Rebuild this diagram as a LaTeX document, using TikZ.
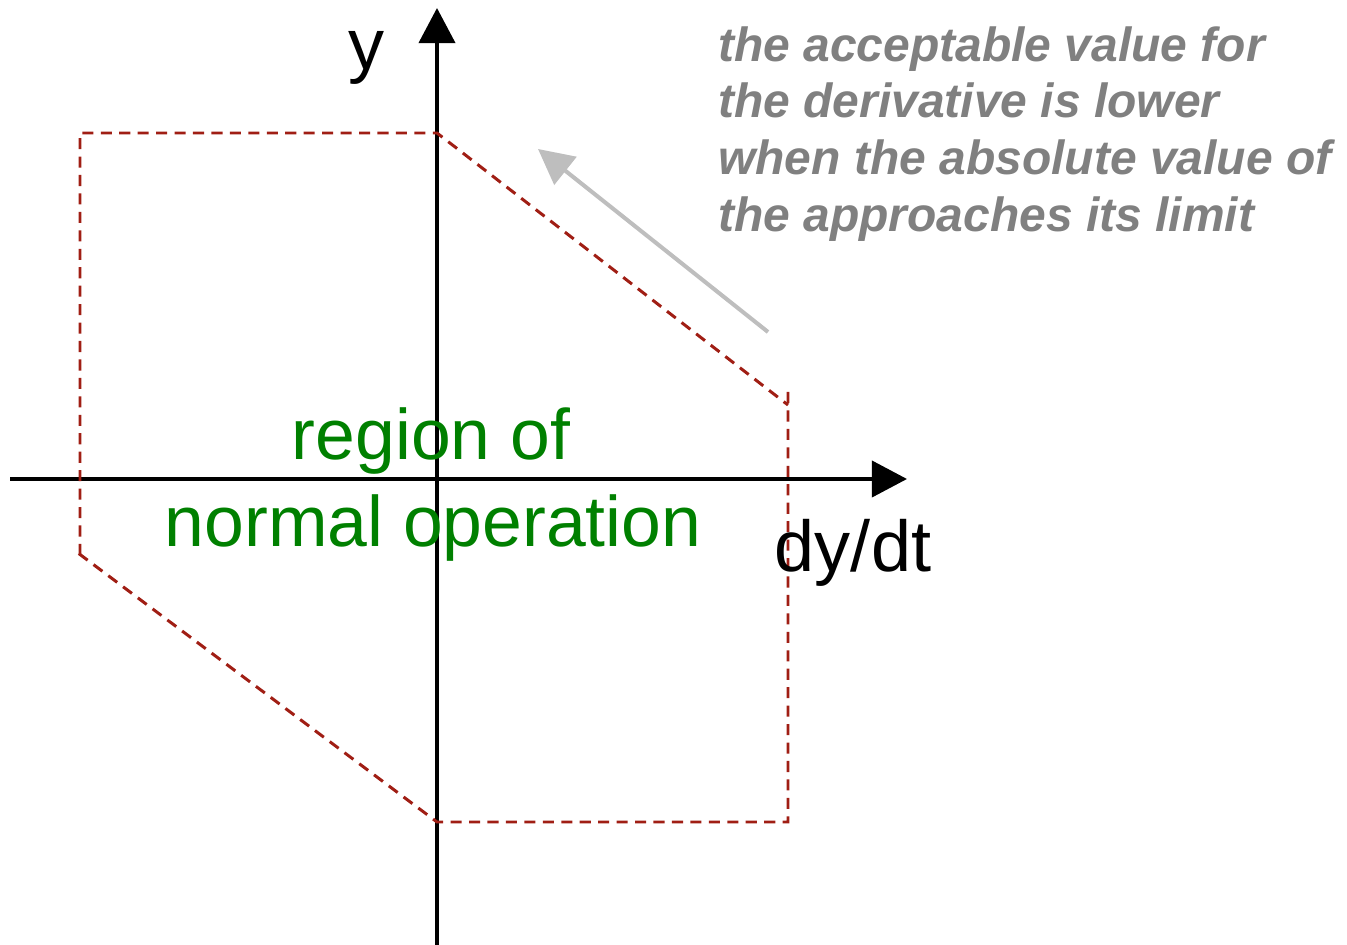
\documentclass[tikz,border=0pt]{standalone}
\usepackage{fontspec}
\setmainfont{Liberation Sans}
\usetikzlibrary{arrows.meta}
\definecolor{regionred}{RGB}{160,30,20}
\definecolor{notegray}{RGB}{128,128,128}
\definecolor{arrowgray}{RGB}{190,190,190}
\definecolor{regiongreen}{RGB}{0,128,0}
\tikzset{
  axis/.style={line width=2.4pt,-{Triangle[length=20pt,width=20.5pt]}},
  limit/.style={regionred,line width=1.7pt,dash pattern=on 6.3pt off 4.2pt},
  hint/.style={arrowgray,line width=2.3pt,-{Triangle[length=20pt,width=20pt]}},
  note/.style={notegray,anchor=base west,inner sep=0pt,font=\fontsize{27.3}{32.4}\selectfont\bfseries\itshape},
  label/.style={regiongreen,anchor=base,inner sep=0pt,font=\fontsize{40.7}{48}\selectfont},
  axlabel/.style={black,anchor=base,inner sep=0pt,font=\fontsize{41}{48}\selectfont}
}
\begin{document}
\begin{tikzpicture}[x=0.02cm,y=-0.02cm]
\useasboundingbox (0,0) rectangle (1347,945);
% axes
\coordinate (ybot) at (437,945);
\coordinate (ytop) at (437,8);
\coordinate (xleft) at (10,479);
\coordinate (xright) at (907,479);
\draw[axis] (ybot) -- (ytop);
\draw[axis] (xleft) -- (xright);
% region boundary
\coordinate (tl) at (80,133);
\coordinate (tm) at (437,133);
\coordinate (rd) at (788,405);
\coordinate (rt) at (788,392);
\coordinate (br) at (788,822);
\coordinate (bm) at (437,822);
\coordinate (ld) at (74,550);
\coordinate (lb) at (80,555);
\draw[limit] (lb) -- (tl) -- (tm) -- (rd);
\draw[limit] (rt) -- (br) -- (bm) -- (ld);
% hint arrow
\coordinate (hs) at (768,332);
\coordinate (he) at (538,149);
\draw[hint] (hs) -- (he);
% labels
\node[axlabel] (ylab) at (367,70) {y};
\node[axlabel] (xlab) at (853,572) {dy/dt};
\node[label] (reg1) at (431,460) {region of};
\node[label] (reg2) at (433,547) {normal operation};
\node[note] (n1) at (718,62) {the acceptable value for};
\node[note] (n2) at (718,118) {the derivative is lower};
\node[note] (n3) at (718,175) {when the absolute value of};
\node[note] (n4) at (718,232) {the approaches its limit};
\end{tikzpicture}
\end{document}
